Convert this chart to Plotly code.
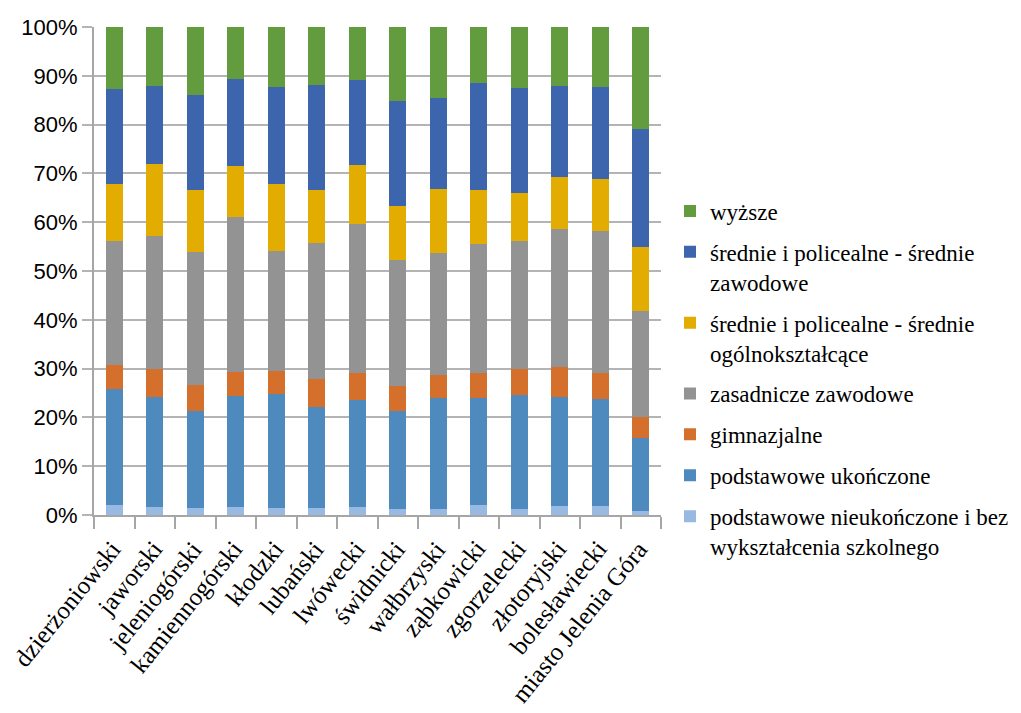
import plotly.graph_objects as go

categories = ["dzierżoniowski", "jaworski", "jeleniogórski", "kamiennogórski", "kłodzki",
              "lubański", "lwówecki", "świdnicki", "wałbrzyski", "ząbkowicki",
              "zgorzelecki", "złotoryjski", "bolesławiecki", "miasto Jelenia Góra"]

podstawowe_nieukonczone = [2.1, 1.7, 1.5, 1.7, 1.5, 1.5, 1.7, 1.3, 1.3, 2.1, 1.3, 1.9, 1.9, 0.9]
podstawowe_ukonczone = [23.8, 22.4, 19.9, 22.6, 23.3, 20.6, 21.8, 20.1, 22.6, 21.8, 23.2, 22.2, 21.9, 14.8]
gimnazjalne = [4.8, 5.8, 5.2, 5.1, 4.8, 5.7, 5.7, 5.0, 4.7, 5.3, 5.5, 6.2, 5.2, 4.3]
zasadnicze = [25.4, 27.3, 27.3, 31.6, 24.6, 27.9, 30.4, 25.8, 25.1, 26.3, 26.1, 28.4, 29.2, 21.8]
srednie_ogolne = [11.7, 14.7, 12.7, 10.5, 13.6, 10.9, 12.1, 11.1, 13.1, 11.1, 9.9, 10.5, 10.6, 13.1]
srednie_zawodowe = [19.5, 16.1, 19.5, 17.8, 19.9, 21.5, 17.4, 21.6, 18.6, 22.0, 21.6, 18.8, 18.9, 24.2]
wyzsze = [12.7, 12.0, 13.9, 10.7, 12.3, 11.9, 10.9, 15.1, 14.6, 11.4, 12.4, 12.0, 12.3, 20.9]

series_names = [
    "podstawowe nieukończone i bez<br>wykształcenia szkolnego",
    "podstawowe ukończone",
    "gimnazjalne",
    "zasadnicze zawodowe",
    "średnie i policealne - średnie<br>ogólnokształcące",
    "średnie i policealne - średnie<br>zawodowe",
    "wyższe",
]
series_values = [podstawowe_nieukonczone, podstawowe_ukonczone, gimnazjalne, zasadnicze,
                 srednie_ogolne, srednie_zawodowe, wyzsze]
colors = ["#98B9E1", "#4F8ABE", "#D4702B", "#939393", "#E2AC00", "#3D65AE", "#639B3F"]

y_ticks = [0, 10, 20, 30, 40, 50, 60, 70, 80, 90, 100]
y_tick_labels = [f"{v}%" for v in y_ticks]

SERIF = "Liberation Serif"

fig = go.Figure()
n = len(series_names)
totals = [sum(s[j] for s in series_values) for j in range(len(categories))]
for i, (name, vals, col) in enumerate(zip(series_names, series_values, colors)):
    pct = [v / t * 100 for v, t in zip(vals, totals)]
    fig.add_trace(go.Bar(x=categories, y=pct, name=name, marker_color=col,
                         marker_line_width=0, legendgroup=f"g{i}", legendrank=n - i))

# category labels as rotated annotations for precise placement
for c in categories:
    fig.add_annotation(x=c, y=0, xref="x", yref="y", text=c, showarrow=False,
                       textangle=-51, xanchor="right", yanchor="top",
                       xshift=15, yshift=-18,
                       font=dict(family=SERIF, size=25, color="black"))

fig.update_layout(
    barmode="stack",
    bargap=0.58,
    width=1005, height=697,
    margin=dict(l=86, r=352, t=19, b=190, autoexpand=False),
    plot_bgcolor="white", paper_bgcolor="white",
    font=dict(family=SERIF, size=23, color="black"),
    legend=dict(
        xref="container", yref="container",
        x=0.6587, xanchor="left", y=0.7396, yanchor="top",
        traceorder="grouped", tracegroupgap=8, valign="top",
        font=dict(family=SERIF, size=23, color="black"),
        itemwidth=30, maxheight=600,
    ),
    showlegend=True,
)
fig.update_xaxes(
    type="category",
    range=[-0.5, len(categories) - 0.5],
    showticklabels=False,
    showline=True, linecolor="#a6a6a6", linewidth=2,
    ticks="outside", tickson="boundaries", ticklen=12, tickcolor="#a6a6a6", tickwidth=2,
    showgrid=False, automargin=False,
)
fig.update_yaxes(
    range=[0, 100],
    tickvals=y_ticks, ticktext=y_tick_labels,
    tickfont=dict(family="Liberation Sans", size=22, color="black"),
    showline=True, linecolor="#a6a6a6", linewidth=2,
    ticks="outside", ticklen=10, tickcolor="#b4b4b4", tickwidth=2,
    showgrid=True, gridcolor="#b4b4b4", gridwidth=2,
    zeroline=False, automargin=False,
)

fig.write_html("out.html")
